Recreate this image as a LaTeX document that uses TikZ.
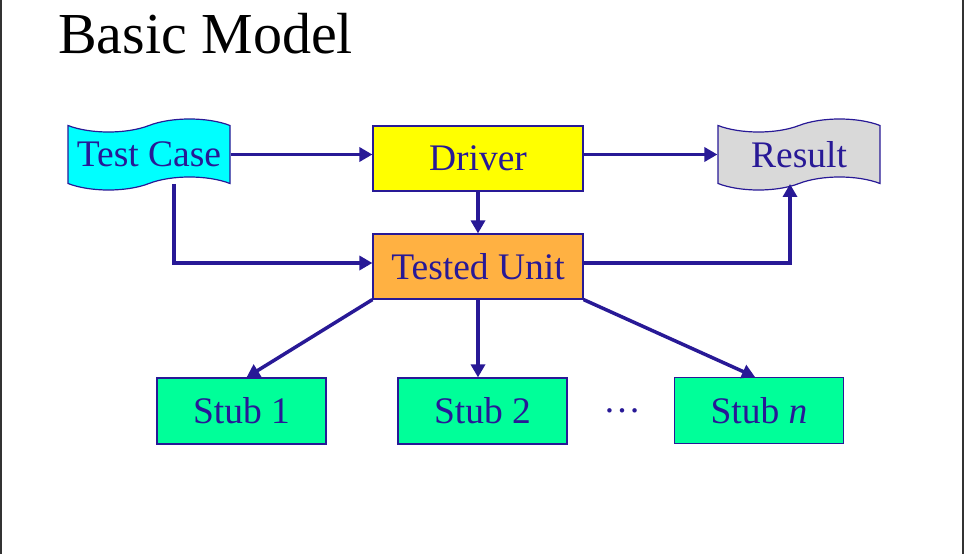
\documentclass[tikz,border=0pt]{standalone}
\usepackage{fontspec}
\setmainfont{Liberation Serif}
\usepackage{tikz}
\usetikzlibrary{shapes,arrows.meta,calc}

\definecolor{inkblue}{RGB}{40,25,150}
\definecolor{framegray}{RGB}{50,50,50}
\definecolor{tapecyan}{RGB}{0,255,255}
\definecolor{tapegray}{RGB}{217,217,217}
\definecolor{drvyellow}{RGB}{255,255,0}
\definecolor{unitorange}{RGB}{255,177,66}
\definecolor{stubgreen}{RGB}{0,255,153}

\begin{document}
\begin{tikzpicture}[x=1pt,y=-1pt]
    \newcommand{\boxfont}{\fontsize{37.5}{45}\selectfont}
    \tikzstyle{dedge} = [line width=3.5pt,-{Triangle[length=13pt,width=14pt]},draw=inkblue]
    \tikzstyle{box}=[
      rectangle,
      draw=inkblue,
      line width=1.2pt,
      text=inkblue,
      font=\boxfont,
      anchor=center,
      inner sep=0pt,
      minimum width=210pt,
      minimum height=65pt,
    ]
    \tikzstyle{tapebox}=[box, tape, minimum width=162pt, minimum height=71pt, tape bend height=13pt]
    \tikzstyle{stub}=[box, fill=stubgreen, minimum width=169pt, minimum height=66pt]

    % page and frame
    \useasboundingbox (0,0) rectangle (964,554);
    \fill[framegray] (0,0) rectangle (2,554);
    \fill[framegray] (962,0) rectangle (964,554);

    \node[anchor=base west, inner sep=0pt, font=\fontsize{58}{70}\selectfont] (nTitle) at (58,53) {Basic Model};

    \node[tapebox, fill=tapecyan] (nCase) at (149,154.5) {Test Case};
    \node[box, fill=drvyellow] (nDriver) at (478,158.5) {Driver};
    \node[tapebox, fill=tapegray] (nResult) at (799,154.5) {Result};
    \node[box, fill=unitorange] (nUnit) at (478,266.5) {Tested Unit};

    \node[stub] (nStubA) at (241.5,411) {Stub 1};
    \node[stub] (nStubB) at (482.5,411) {Stub 2};
    \node[stub] (nStubN) at (759,410.5) {Stub \textit{n}};
    \node[text=inkblue, font=\boxfont] (nDots) at (622,411) {\dots};

    \draw[dedge] (nCase.east)--(nCase.east -| nDriver.west);
    \draw[dedge] (nResult.west -| nDriver.east)--(nResult.west);
    \draw[dedge] (nDriver)--(nUnit);
    \draw[dedge] ([xshift=25pt]nCase.south) |- ([yshift=3.5pt]nUnit.west);
    \draw[dedge] ([yshift=3.5pt]nUnit.east) -| ([xshift=-9pt]nResult.south);
    \draw[dedge] (nUnit.south west)--([xshift=5pt]nStubA.north);
    \draw[dedge] (nUnit.south)--(nUnit.south |- nStubB.north);
    \draw[dedge] (nUnit.south east)--([xshift=-4pt]nStubN.north);
  \end{tikzpicture}
\end{document}
